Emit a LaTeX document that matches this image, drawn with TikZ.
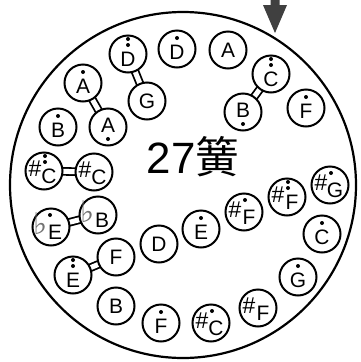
\documentclass[tikz,border=0pt]{standalone}
\usepackage{fontspec}
\setmainfont{Liberation Sans}
\newfontfamily\djv{DejaVu Sans}
\newfontfamily\cjk{Noto Sans CJK SC}
\pgfdeclarelayer{bg}
\pgfsetlayers{bg,main}
\tikzset{
 nc/.style={circle, draw, line width=2bp, fill=white, minimum size=37bp, inner sep=0},
 lt/.style={inner sep=0, font=\fontsize{21}{21}\selectfont},
 ac/.style={inner sep=0, font=\fontsize{23}{23}\selectfont},
 fl/.style={inner sep=0, font=\djv\fontsize{30}{30}\selectfont, text=black!55},
 bridge/.style={draw, double=white, double distance=5bp, line width=1.8bp},
 ring/.style={circle, draw, line width=2.2bp, minimum size=346bp, inner sep=0},
 dotc/.style={fill=black},
}
% plain nodes
\newcommand\Pn[4]{\node[nc](#1) at (#2,#3){}; \node[lt](#1t) at (#2,#3){#4};}
\newcommand\Pu[4]{\node[nc](#1) at (#2,#3){}; \node[lt](#1t) at (#2,#3+3){#4}; \fill[dotc] (#2,#3-11) circle (2bp);}
\newcommand\Puu[4]{\node[nc](#1) at (#2,#3){}; \node[lt](#1t) at (#2,#3+5){#4}; \fill[dotc] (#2,#3-15) circle (2bp); \fill[dotc] (#2,#3-9) circle (2bp);}
\newcommand\Pd[4]{\node[nc](#1) at (#2,#3){}; \node[lt](#1t) at (#2,#3-2){#4}; \fill[dotc] (#2,#3+12) circle (2bp);}
% sharp nodes
\newcommand\Sn[4]{\node[nc](#1) at (#2,#3){}; \node[ac](#1a) at (#2-9,#3-2){\#}; \node[lt](#1t) at (#2+5,#3+5){#4};}
\newcommand\Su[4]{\Sn{#1}{#2}{#3}{#4} \fill[dotc] (#2+1,#3-12) circle (2bp);}
\newcommand\Suu[4]{\Sn{#1}{#2}{#3}{#4} \fill[dotc] (#2+1,#3-15) circle (2bp); \fill[dotc] (#2+1,#3-9) circle (2bp);}
% flat nodes
\newcommand\Fn[4]{\node[nc](#1) at (#2,#3){}; \node[fl](#1a) at (#2-10,#3-3){♭}; \node[lt](#1t) at (#2+4,#3+5){#4};}
\newcommand\Fu[4]{\Fn{#1}{#2}{#3}{#4} \fill[dotc] (#2-1,#3-12) circle (2bp);}
\begin{document}
\begin{tikzpicture}[x=1bp,y=-1bp]
\useasboundingbox (0,0) rectangle (361,362);
\node[ring] (rim) at (183,185) {};
\coordinate (arrtop) at (275,0);
\fill[black!75] (arrtop) ++(-4.5,0) -- ++(9,0) -- ++(0,5) -- ++(7.5,0) -- (275,33) -- (263,5) -- (270.5,5) -- cycle;
\node[inner sep=0, anchor=base, font=\fontsize{44}{44}\selectfont] (title) at (193,173) {27{\cjk 簧}};
\Pu{n1}{177}{49}{D}
\Pn{n2}{228}{50}{A}
\Puu{n3}{271}{74}{C}
\Pd{n4}{243}{112}{B}
\Pu{n5}{306}{108}{F}
\Puu{n6}{128}{54}{D}
\Pn{n7}{147}{101}{G}
\Pu{n8}{83}{83}{A}
\Pd{n9}{108}{127}{A}
\Pu{n10}{58}{127}{B}
\Suu{n11}{44}{171}{C}
\Sn{n12}{94}{172}{C}
\Fu{n13}{51}{227}{E}
\Fn{n14}{98}{215}{B}
\Puu{n15}{73}{275}{E}
\Pn{n16}{116}{257}{F}
\Pn{n17}{159}{244}{D}
\Pn{n18}{116}{306}{B}
\Pu{n19}{161}{323}{F}
\Pu{n20}{201}{229}{E}
\Su{n21}{244}{212}{F}
\Suu{n22}{287}{197}{F}
\Su{n23}{330}{185}{G}
\Pu{n24}{322}{234}{C}
\Pu{n25}{298}{277}{G}
\Sn{n26}{258}{308}{F}
\Su{n27}{211}{323}{C}
\begin{pgfonlayer}{bg}
\draw[bridge] (n6.center) -- (n7.center);
\draw[bridge] (n8.center) -- (n9.center);
\draw[bridge] (n3.center) -- (n4.center);
\draw[bridge] (n11.center) -- (n12.center);
\draw[bridge] (n13.center) -- (n14.center);
\draw[bridge] (n15.center) -- (n16.center);
\end{pgfonlayer}
\end{tikzpicture}
\end{document}
